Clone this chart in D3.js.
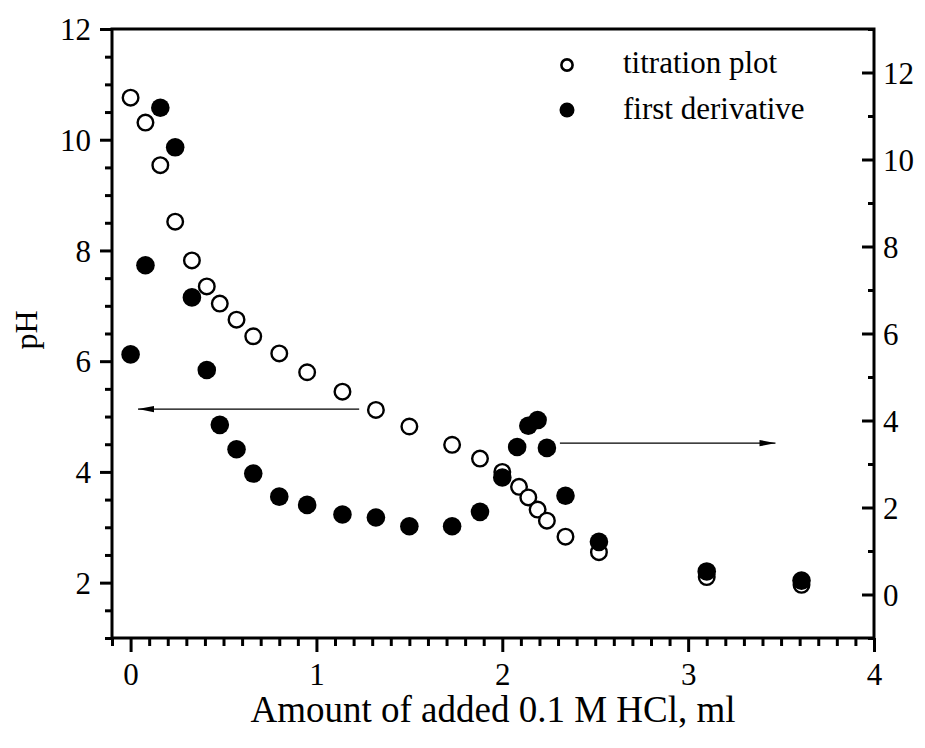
<!DOCTYPE html>
<html>
<head>
<meta charset="utf-8">
<script src="https://cdn.jsdelivr.net/npm/d3@7"></script>
<style>
  html, body { margin: 0; padding: 0; background: #fff; }
  svg { display: block; }
  text { font-family: "Liberation Serif", "Times New Roman", serif; fill: #000; }
</style>
</head>
<body>
<svg id="chart" width="925" height="748"></svg>
<script>
// ---- data ----
const volTitration = [0, 0.08, 0.16, 0.24, 0.33, 0.41, 0.48, 0.57, 0.66, 0.80, 0.95, 1.14, 1.32, 1.50, 1.73, 1.88, 2.00, 2.09, 2.14, 2.19, 2.24, 2.34, 2.52, 3.10, 3.61];
const pHValues = [10.76, 10.31, 9.54, 8.52, 7.82, 7.35, 7.04, 6.75, 6.45, 6.14, 5.80, 5.45, 5.12, 4.82, 4.49, 4.24, 4.00, 3.73, 3.54, 3.32, 3.12, 2.83, 2.55, 2.10, 1.96];
const volDerivative = [0, 0.08, 0.16, 0.24, 0.33, 0.41, 0.48, 0.57, 0.66, 0.80, 0.95, 1.14, 1.32, 1.50, 1.73, 1.88, 2.00, 2.08, 2.14, 2.19, 2.24, 2.34, 2.52, 3.10, 3.61];
const derivValues = [5.52, 7.57, 11.19, 10.28, 6.83, 5.16, 3.90, 3.34, 2.78, 2.25, 2.06, 1.84, 1.77, 1.57, 1.57, 1.90, 2.69, 3.39, 3.88, 4.01, 3.37, 2.27, 1.21, 0.53, 0.32];
const xTicks = [0, 1, 2, 3, 4];
const yLeftTicks = [2, 4, 6, 8, 10, 12];
const yRightTicks = [0, 2, 4, 6, 8, 10, 12];
const legendLabels = ["titration plot", "first derivative"];
const xTitle = "Amount of added 0.1 M HCl, ml";
const yTitle = "pH";
// arrows in data units (x, left-axis pH)
const arrowLeft = { from: [1.23, 5.135], to: [0.04, 5.135] };
const arrowRight = { from: [2.31, 4.52], to: [3.47, 4.52] };

// ---- layout ----
const W = 925, H = 748;
const m = { left: 112, right: 51, top: 29, bottom: 110 };
const iw = W - m.left - m.right, ih = H - m.top - m.bottom;

const svg = d3.select("#chart");
const g = svg.append("g").attr("transform", `translate(${m.left},${m.top})`);

const x = d3.scaleLinear().domain([-0.1, 4]).range([0, iw]);
const yL = d3.scaleLinear().domain([1, 12]).range([ih, 0]);
const yR = d3.scaleLinear().domain([-1, 13]).range([ih, 0]);

const fontTick = 31;
const axisW = 3;

// minor tick values
const xMinor = d3.range(-1, 41).map(d => d / 10).filter(d => !xTicks.includes(d));
const yLMinor = d3.range(2, 25).map(d => d / 2).filter(d => !yLeftTicks.includes(d));
const yRMinor = d3.range(-1, 14).filter(d => !yRightTicks.includes(d));

function styleAxis(sel) {
  sel.attr("font-family", null).attr("font-size", null);
  sel.select(".domain").remove();
  sel.selectAll(".tick line").attr("stroke", "#000").attr("stroke-width", axisW);
  sel.selectAll(".tick text").style("font-size", fontTick + "px").attr("fill", "#000");
}

// X axis
g.append("g").attr("transform", `translate(0,${ih})`)
  .call(d3.axisBottom(x).tickValues(xMinor).tickSize(8).tickFormat(""))
  .call(styleAxis);
g.append("g").attr("transform", `translate(0,${ih})`)
  .call(d3.axisBottom(x).tickValues(xTicks).tickSize(14).tickPadding(9).tickFormat(d3.format("d")))
  .call(styleAxis)
  .selectAll(".tick text").attr("dy", "0.78em");

// Left axis
g.append("g")
  .call(d3.axisLeft(yL).tickValues(yLMinor).tickSize(7).tickFormat(""))
  .call(styleAxis);
g.append("g")
  .call(d3.axisLeft(yL).tickValues(yLeftTicks).tickSize(12).tickPadding(9).tickFormat(d3.format("d")))
  .call(styleAxis)
  .selectAll(".tick text").attr("dy", "0.34em");

// Right axis (ticks point inward, labels outside)
const rMinor = g.append("g").attr("transform", `translate(${iw},0)`)
  .call(d3.axisRight(yR).tickValues(yRMinor).tickSize(6).tickFormat(""))
  .call(styleAxis);
rMinor.selectAll(".tick line").attr("x2", -6);
const rMajor = g.append("g").attr("transform", `translate(${iw},0)`)
  .call(d3.axisRight(yR).tickValues(yRightTicks).tickSize(12).tickPadding(9).tickFormat(d3.format("d")))
  .call(styleAxis);
rMajor.selectAll(".tick line").attr("x2", -12);
rMajor.selectAll(".tick text").attr("x", 9).attr("dy", "0.34em");

// Frame
g.append("rect").attr("x", 0).attr("y", 0).attr("width", iw).attr("height", ih)
  .attr("fill", "none").attr("stroke", "#000").attr("stroke-width", axisW);

// Arrows
const defs = svg.append("defs");
defs.append("marker").attr("id", "ah").attr("viewBox", "0 0 16 8")
  .attr("refX", 16).attr("refY", 4).attr("markerWidth", 16).attr("markerHeight", 8)
  .attr("markerUnits", "userSpaceOnUse").attr("orient", "auto")
  .append("path").attr("d", "M0,0.8 L16,4 L0,7.2 Z").attr("fill", "#000");

[arrowLeft, arrowRight].forEach(a => {
  g.append("line")
    .attr("x1", x(a.from[0])).attr("y1", yL(a.from[1]))
    .attr("x2", x(a.to[0])).attr("y2", yL(a.to[1]))
    .attr("stroke", "#000").attr("stroke-width", 1.2)
    .attr("marker-end", "url(#ah)");
});

// Titration points (open)
const titr = volTitration.map((v, i) => ({ x: v, y: pHValues[i] }));
g.append("g").selectAll("circle").data(titr).join("circle")
  .attr("cx", d => x(d.x)).attr("cy", d => yL(d.y)).attr("r", 7.8)
  .attr("fill", "#fff").attr("stroke", "#000").attr("stroke-width", 2.4);

// Derivative points (filled)
const der = volDerivative.map((v, i) => ({ x: v, y: derivValues[i] }));
g.append("g").selectAll("circle").data(der).join("circle")
  .attr("cx", d => x(d.x)).attr("cy", d => yR(d.y)).attr("r", 9.3)
  .attr("fill", "#000");

// Legend
const lg = g.append("g").attr("transform", `translate(${567 - m.left},${65 - m.top})`);
lg.append("circle").attr("cx", 0).attr("cy", 0).attr("r", 5.6)
  .attr("fill", "#fff").attr("stroke", "#000").attr("stroke-width", 2.6);
lg.append("circle").attr("cx", 0).attr("cy", 45).attr("r", 7.5).attr("fill", "#000");
lg.selectAll("text").data(legendLabels).join("text")
  .attr("x", 56).attr("y", (d, i) => i * 46 + 8)
  .attr("fill", "#000")
  .style("font-size", "31px").text(d => d);

// Axis titles
svg.append("text").attr("x", m.left + iw / 2).attr("y", 722)
  .attr("text-anchor", "middle").attr("fill", "#000")
  .style("font-size", "37px").text(xTitle);
svg.append("text").attr("transform", `translate(37,330) rotate(-90)`)
  .attr("text-anchor", "middle").attr("fill", "#000")
  .style("font-size", "32px").text(yTitle);
</script>
</body>
</html>
